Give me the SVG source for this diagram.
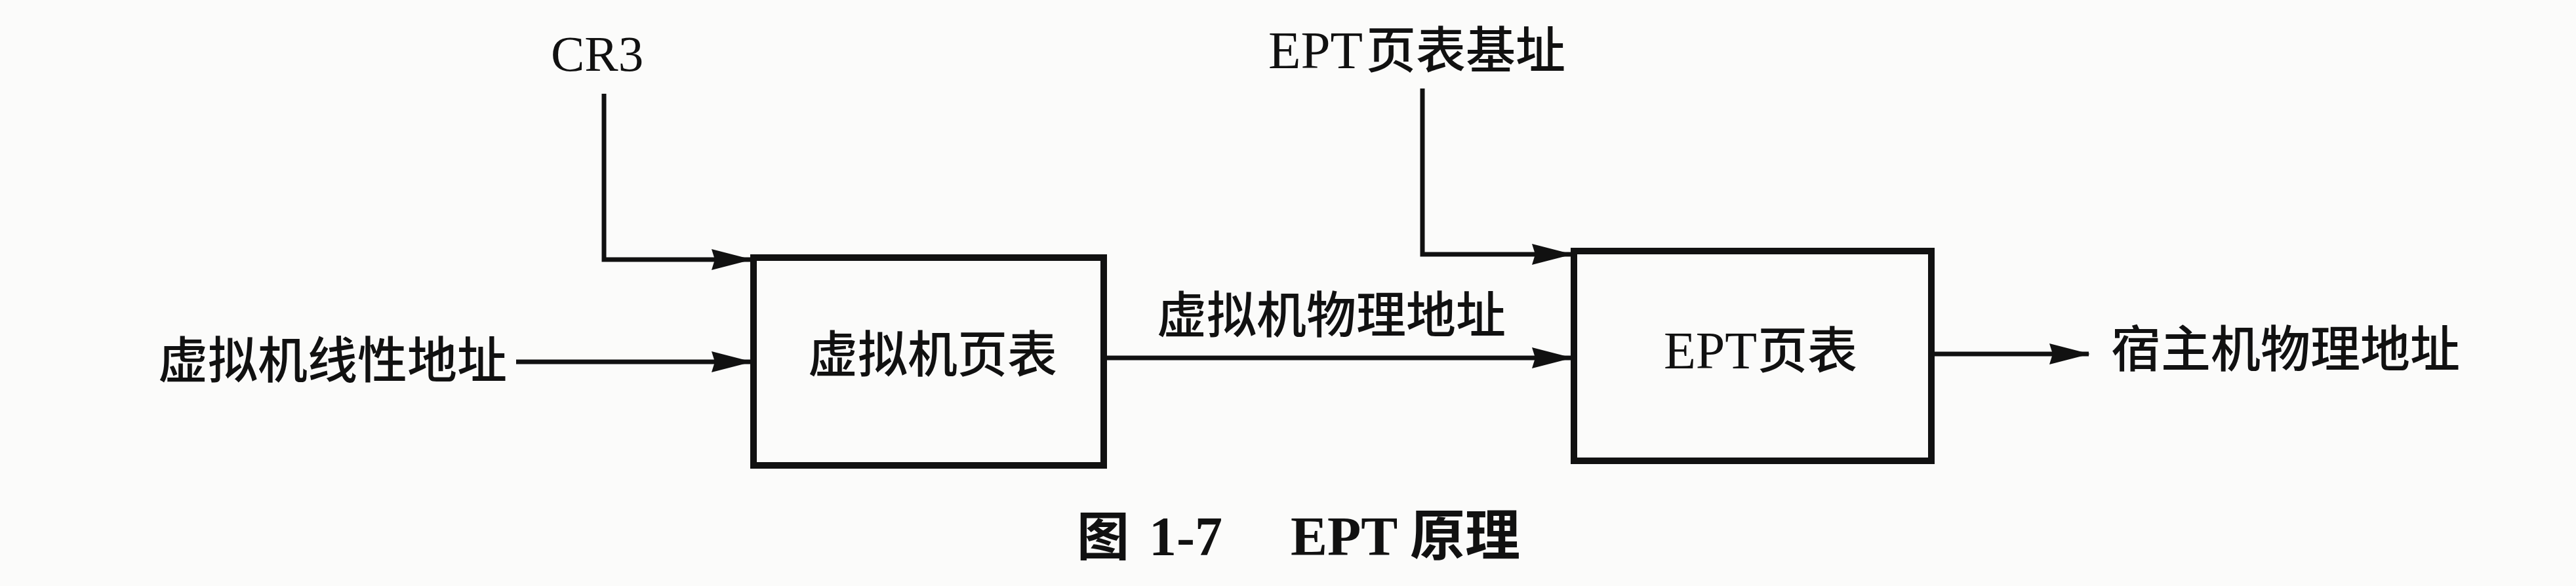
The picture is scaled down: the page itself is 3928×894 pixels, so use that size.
<svg xmlns="http://www.w3.org/2000/svg" width="3928" height="894" viewBox="0 0 3928 894">
<style>
.lbl{font-family:"Noto Sans CJK SC","Liberation Sans",sans-serif;font-size:76px;font-weight:500;fill:#111}
.lat{font-family:"Liberation Serif","Noto Sans CJK SC",serif;fill:#111}
.box{fill:none;stroke:#111;stroke-width:10}
.con{fill:none;stroke:#111;stroke-width:7}
.capb{font-family:"Liberation Serif","Noto Sans CJK SC",serif;font-weight:bold;fill:#111}
.capc{font-family:"Noto Sans CJK SC","Liberation Sans",sans-serif;font-weight:700;fill:#111}
</style>
<defs>
<marker id="arr" markerUnits="userSpaceOnUse" viewBox="0 0 62 32" markerWidth="62" markerHeight="32" refX="60" refY="16" orient="auto">
<path d="M0 0 L62 16 L0 32 L5 16 Z" fill="#111"/>
</marker>
</defs>
<rect width="3928" height="894" fill="#fbfbfa"/>
<g id="connectors">
<path class="con" d="M921 143 V396 H1145" marker-end="url(#arr)"/>
<path class="con" d="M787 552 H1145" marker-end="url(#arr)"/>
<path class="con" d="M1683 546 H2396" marker-end="url(#arr)"/>
<path class="con" d="M2169 135 V388 H2396" marker-end="url(#arr)"/>
<path class="con" d="M2945 540 H3185" marker-end="url(#arr)"/>
</g>
<g id="cr3">
<text class="lat" x="840" y="108" font-size="77">CR3</text>
</g>
<g id="ept-base">
<text x="1934" y="104"><tspan class="lat" font-size="81">EPT</tspan><tspan class="lbl" x="2083" font-size="75">页表基址</tspan></text>
</g>
<g id="guest-linear">
<text class="lbl" x="241" y="577" font-size="75">虚拟机线性地址</text>
</g>
<g id="guest-pt">
<rect class="box" x="1149" y="393" width="534" height="317"/>
<text class="lbl" x="1232" y="568" font-size="77">虚拟机页表</text>
</g>
<g id="guest-phys">
<text class="lbl" x="1764" y="508" font-size="77">虚拟机物理地址</text>
</g>
<g id="ept-pt">
<rect class="box" x="2400" y="383" width="545" height="320"/>
<text x="2537" y="562"><tspan class="lat" font-size="80">EPT</tspan><tspan class="lbl" x="2680" font-size="75">页表</tspan></text>
</g>
<g id="host-phys">
<text class="lbl" x="3219" y="560" font-size="76">宿主机物理地址</text>
</g>
<g id="caption">
<text y="847"><tspan class="capc" x="1642" font-size="80">图</tspan><tspan class="capb" x="1752" font-size="84">1-7</tspan><tspan class="capb" x="1968" font-size="84">EPT</tspan><tspan class="capc" x="2150" font-size="84">原理</tspan></text>
</g>
</svg>
